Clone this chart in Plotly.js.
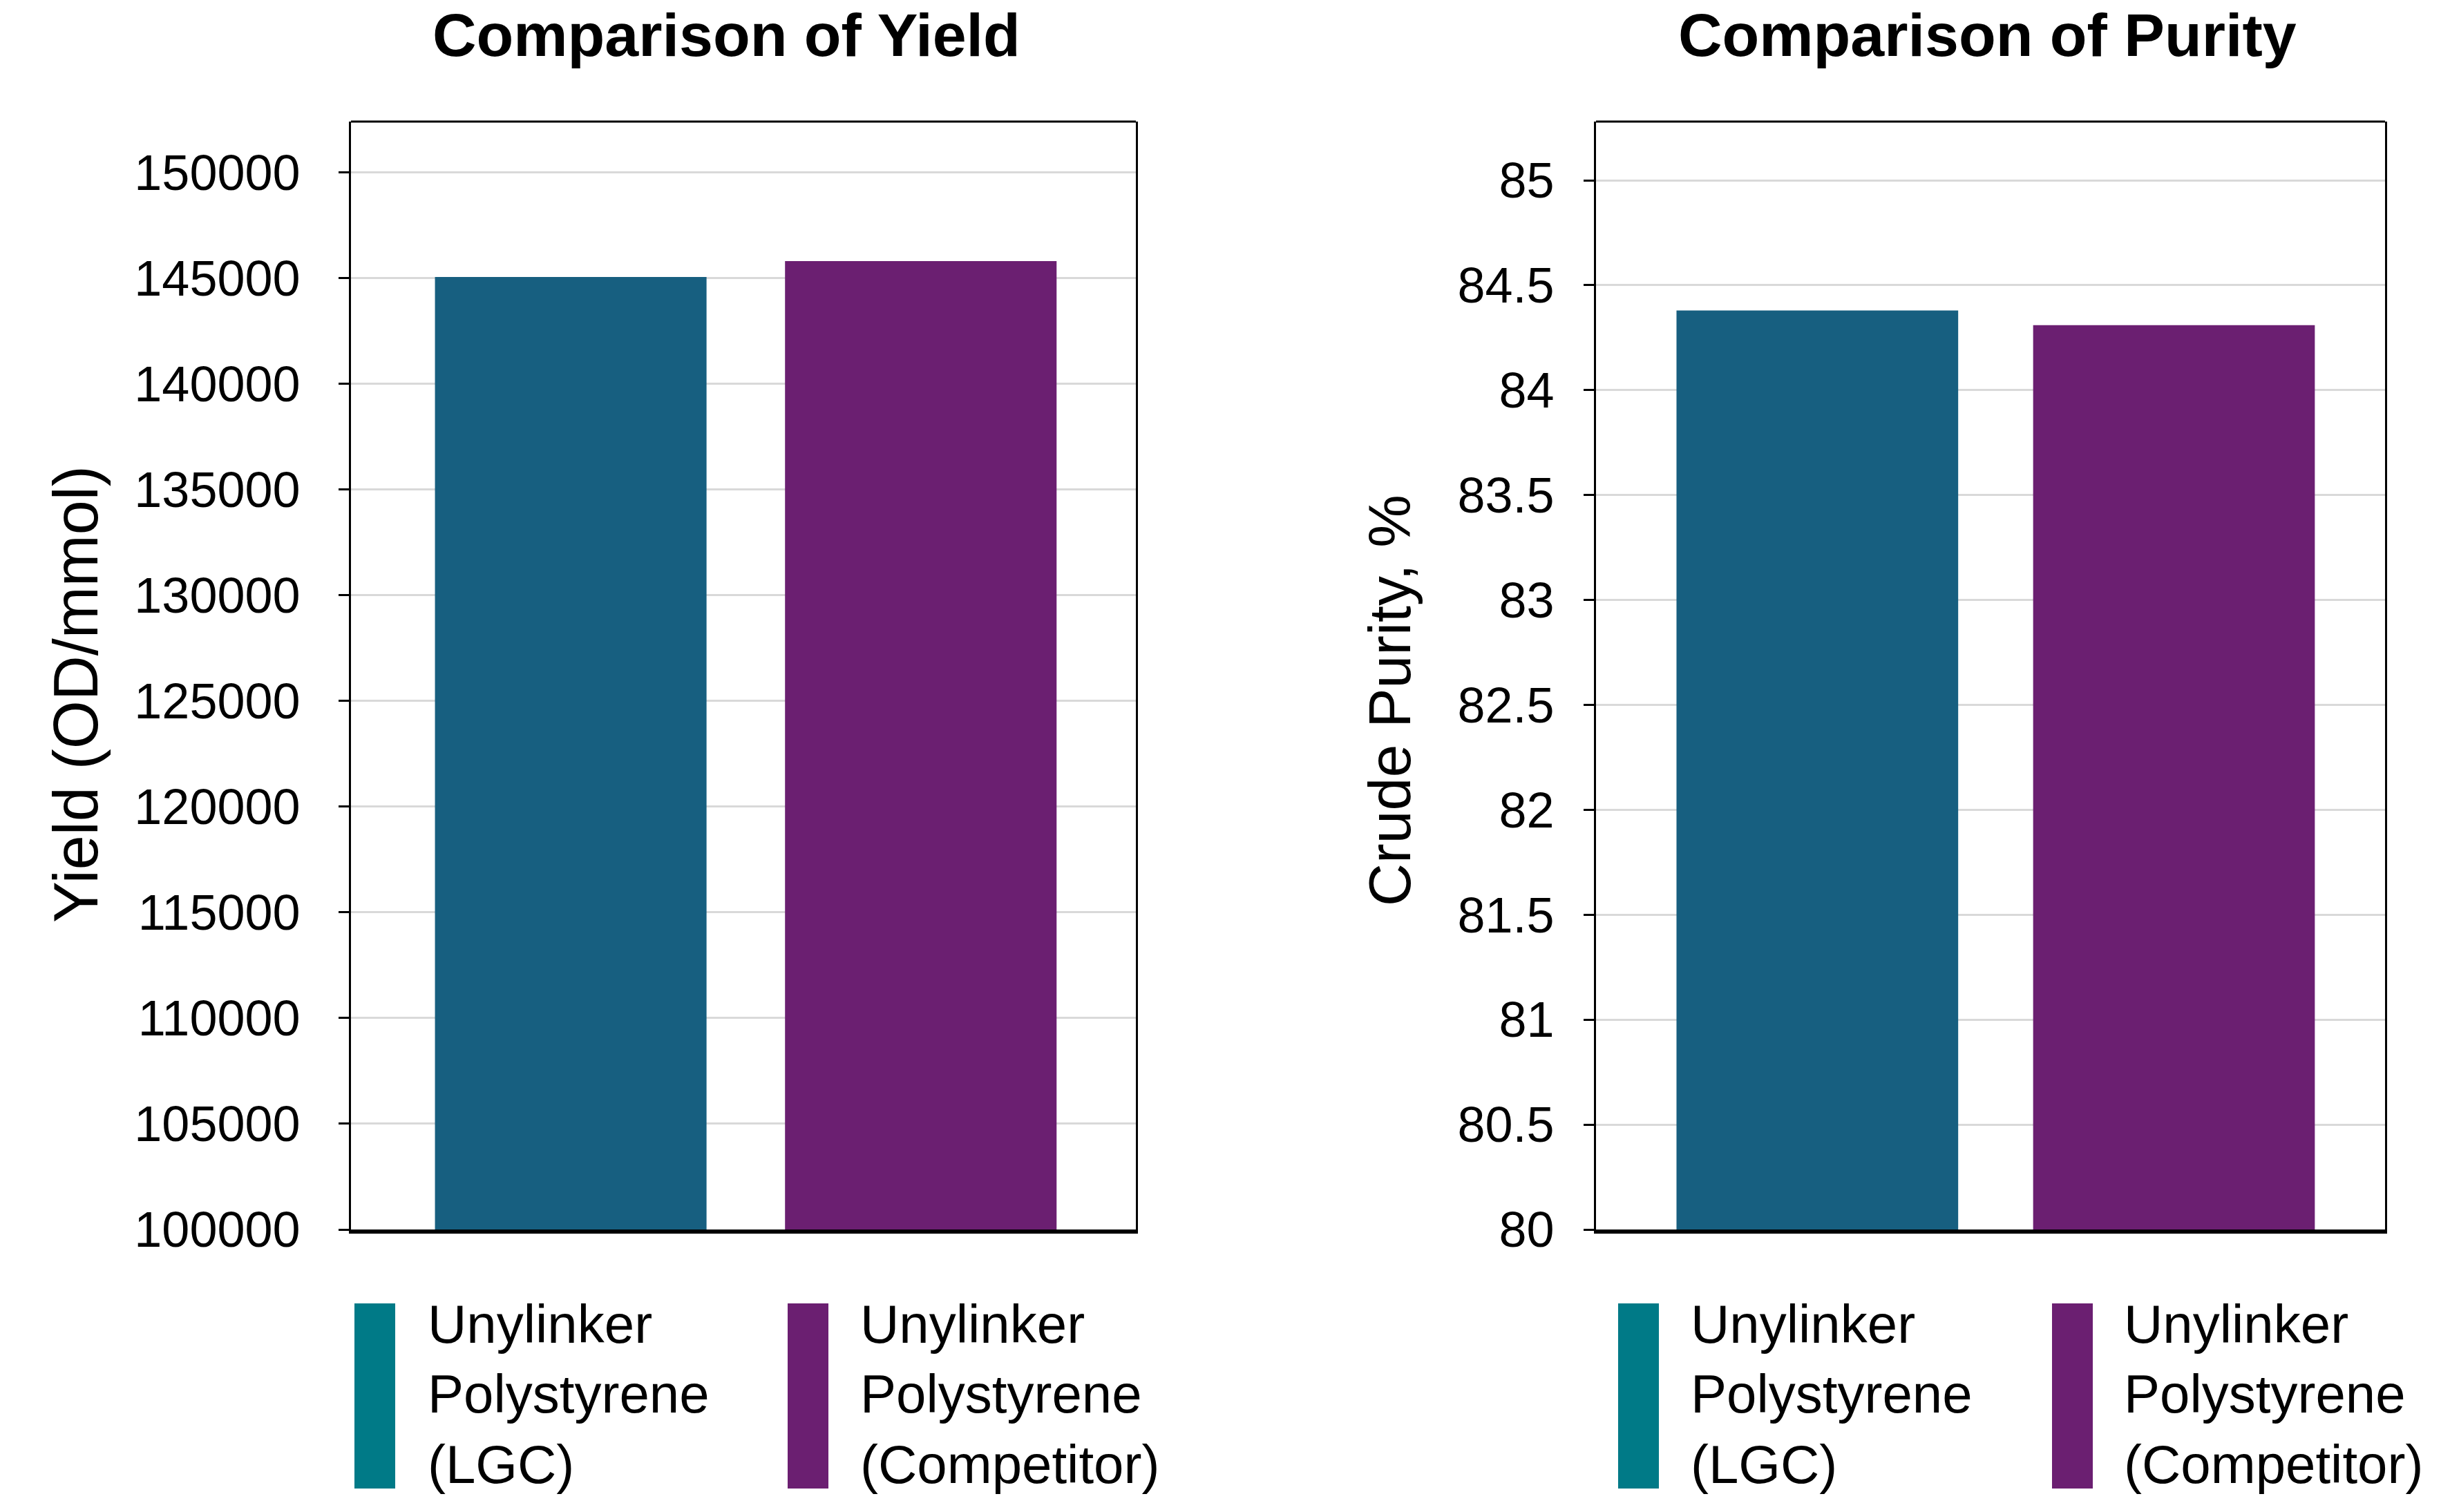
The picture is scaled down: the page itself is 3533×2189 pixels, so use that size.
<!DOCTYPE html>
<html>
<head>
<meta charset="utf-8">
<script src="https://cdn.plot.ly/plotly-3.0.1.min.js"></script>
<style>
  html, body { margin: 0; padding: 0; background: #fff; }
  #chart { width: 3533px; height: 2189px; }
</style>
</head>
<body>
<div id="chart"></div>
<script>
// values
const seriesNames = ['Unylinker Polystyrene (LGC)', 'Unylinker Polystyrene (Competitor)'];
const legendLines = [['Unylinker', 'Polystyrene', '(LGC)'], ['Unylinker', 'Polystyrene', '(Competitor)']];
const yieldValues = [145050, 145800];
const purityValues = [84.38, 84.31];
const panelTitles = ['Comparison of Yield', 'Comparison of Purity'];
const axisTitles = ['Yield (OD/mmol)', 'Crude Purity, %'];
const barColors = ['#175F80', '#6B1F71'];
const swatchColors = ['#007A87', '#6B1F71'];

const W = 3533, H = 2189;
const FONT = 'Liberation Sans, Arial, sans-serif';

// bar widths / offsets, in category units, per panel
const barWidth = [0.346, 0.357];
const barOffset = [[-0.393, 0.053], [-0.398, 0.054]];

window.addEventListener('DOMContentLoaded', init);


function init() {
    Plotly.newPlot('chart', traces(), layout(), { staticPlot: true });
}


// pixel -> paper helpers
function px(x) { return x / W; }
function py(y) { return 1 - y / H; }


function traces() {
    let out = [];
    for (let i = 0; i < seriesNames.length; i++) {
        out.push({ type: 'bar', name: seriesNames[i], x: ['Yield'], y: [yieldValues[i]],
                   width: barWidth[0], offset: barOffset[0][i],
                   marker: { color: barColors[i] }, xaxis: 'x', yaxis: 'y', showlegend: false });
    }
    for (let i = 0; i < seriesNames.length; i++) {
        out.push({ type: 'bar', name: seriesNames[i], x: ['Purity'], y: [purityValues[i]],
                   width: barWidth[1], offset: barOffset[1][i],
                   marker: { color: barColors[i] }, xaxis: 'x2', yaxis: 'y2', showlegend: false });
    }
    return out;
}


const PLOT_TOP = 176, PLOT_BOTTOM = 1780;

function yAxis(range, dtick, fmt, anchor, standoff) {
    return {
        anchor: anchor, domain: [py(PLOT_BOTTOM), py(PLOT_TOP)], range: range, dtick: dtick, tick0: range[0],
        tickformat: fmt, showgrid: true, gridcolor: '#d9d9d9', gridwidth: 3,
        ticks: 'outside', ticklen: 15, tickwidth: 3, tickcolor: '#000',
        ticklabelstandoff: standoff, showline: true, linecolor: '#000', linewidth: 3,
        mirror: true, zeroline: false, tickfont: { family: FONT, size: 72, color: '#000' }
    };
}


function xAxis(domain, anchor) {
    return {
        anchor: anchor, domain: domain, range: [-0.5, 0.5], showticklabels: false, ticks: '',
        showline: true, linecolor: '#000', linewidth: 6, mirror: false, showgrid: false
    };
}


function layout() {
    const plotX = [[508, 1644], [2310, 3452]];
    const titleCenter = [1051, 2876];
    const yTitleX = [110, 2011];
    const yTitleY = [1005, 1014];
    const yTitleSize = [90, 86];
    const swatchX = [[513, 1140], [2342, 2970]];
    const textX = [[617, 1243], [2445, 3072]];

    let annotations = [];
    let shapes = [];

    for (let p = 0; p < 2; p++) {
        annotations.push({
            xref: 'paper', yref: 'paper', x: px(titleCenter[p]), y: py(50),
            xanchor: 'center', yanchor: 'middle', showarrow: false,
            text: '<b>' + panelTitles[p] + '</b>', font: { family: FONT, size: 88, color: '#000' }
        });
        annotations.push({
            xref: 'paper', yref: 'paper', x: px(yTitleX[p]), y: py(yTitleY[p]),
            xanchor: 'center', yanchor: 'middle', showarrow: false, textangle: -90,
            text: axisTitles[p], font: { family: FONT, size: yTitleSize[p], color: '#000' }
        });
        // top border of the frame (bottom is the thicker x axis line)
        shapes.push({
            type: 'line', xref: 'paper', yref: 'paper',
            x0: px(plotX[p][0]), x1: px(plotX[p][1]), y0: py(PLOT_TOP), y1: py(PLOT_TOP),
            line: { color: '#000', width: 3 }
        });
        for (let s = 0; s < 2; s++) {
            shapes.push({
                type: 'rect', xref: 'paper', yref: 'paper',
                x0: px(swatchX[p][s]), x1: px(swatchX[p][s] + 59), y0: py(2155), y1: py(1887),
                fillcolor: swatchColors[s], line: { width: 0 }
            });
            annotations.push({
                xref: 'paper', yref: 'paper', x: px(textX[p][s]), y: py(1871),
                xanchor: 'left', yanchor: 'top', align: 'left', showarrow: false,
                text: legendLines[s].join('<br>'), font: { family: FONT, size: 78, color: '#000' }
            });
        }
    }

    return {
        width: W, height: H, margin: { l: 0, r: 0, t: 0, b: 0 },
        paper_bgcolor: '#fff', plot_bgcolor: '#fff',
        barmode: 'overlay',
        showlegend: false, font: { family: FONT, color: '#000' },
        xaxis: xAxis([px(plotX[0][0]), px(plotX[0][1])], 'y'),
        yaxis: yAxis([100000, 152400], 5000, 'd', 'x', 41),
        xaxis2: xAxis([px(plotX[1][0]), px(plotX[1][1])], 'y2'),
        yaxis2: yAxis([80, 85.28], 0.5, '', 'x2', 28),
        annotations: annotations, shapes: shapes
    };
}
</script>
</body>
</html>
